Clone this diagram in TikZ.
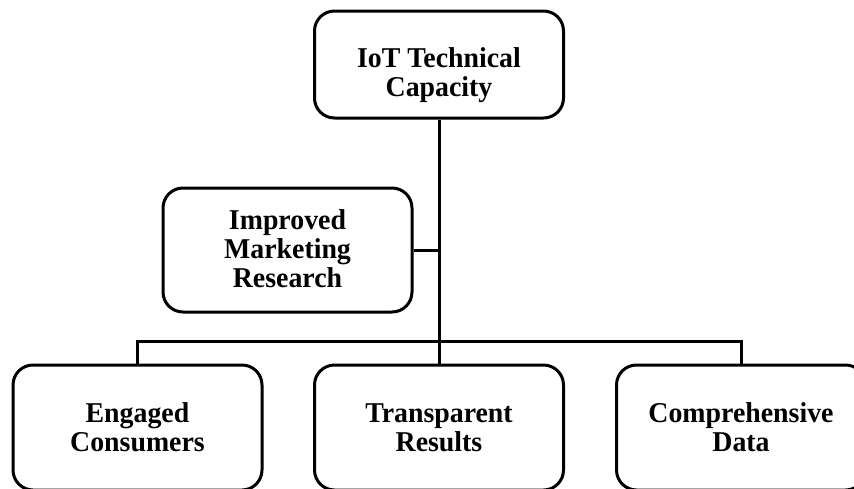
\documentclass[tikz,border=0pt]{standalone}
\usepackage{fontspec}
\setmainfont{Liberation Serif}[FakeStretch=0.97]
\begin{document}
\begin{tikzpicture}[x=1pt,y=-1pt,
  box/.style={draw=black, line width=3pt, rounded corners=20pt, fill=white,
    minimum width=249pt, align=center, inner sep=0pt, text depth=8pt,
    font=\fontsize{28.7}{29}\selectfont\bfseries},
  link/.style={draw=black, line width=3pt}]
\useasboundingbox (0,0) rectangle (854,488);
% boxes (text height places the last baseline inside each box)
\node[box, minimum height=107pt, text height=71pt] (top) at (439,64.5) {IoT Technical\\Capacity};
\node[box, minimum height=124pt, text height=82pt] (mid) at (287.5,250) {Improved\\Marketing\\Research};
\node[box, minimum height=125pt, text height=55pt] (eng) at (137.5,427.5) {Engaged\\Consumers};
\node[box, minimum height=125pt, text height=55pt] (tra) at (439,427.5) {Transparent\\Results};
\node[box, minimum height=125pt, text height=55pt] (com) at (741,427.5) {Comprehensive\\Data};
\coordinate (bus) at (439,341);
% connectors
\draw[link] (top.south) -- (tra.north);
\draw[link] (mid.east) -- (mid.east -| top.south);
\draw[link] (eng.north) |- (bus) -| (com.north);
\end{tikzpicture}
\end{document}
